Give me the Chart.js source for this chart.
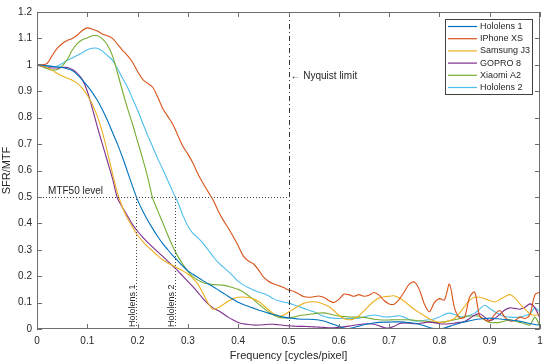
<!DOCTYPE html>
<html>
<head>
<meta charset="utf-8">
<script src="https://cdn.jsdelivr.net/npm/chart.js@4.4.1/dist/chart.umd.min.js"></script>
<style>
  html, body { margin: 0; padding: 0; background: #fff; }
  #wrap { width: 550px; height: 363px; }
</style>
</head>
<body>
<div id="wrap"><canvas id="mtf" width="550" height="363"></canvas></div>
<script>
// frequency grid (cycles/pixel)
const freq = [
  0.00, 0.01, 0.02, 0.03, 0.04, 0.05, 0.06, 0.07, 0.08, 0.09,
  0.10, 0.11, 0.12, 0.13, 0.14, 0.15, 0.16, 0.17, 0.18, 0.19,
  0.20, 0.21, 0.22, 0.23, 0.24, 0.25, 0.26, 0.27, 0.28, 0.29,
  0.30, 0.31, 0.32, 0.33, 0.34, 0.35, 0.36, 0.37, 0.38, 0.39,
  0.40, 0.41, 0.42, 0.43, 0.44, 0.45, 0.46, 0.47, 0.48, 0.49,
  0.50, 0.51, 0.52, 0.53, 0.54, 0.55, 0.56, 0.57, 0.58, 0.59,
  0.60, 0.61, 0.62, 0.63, 0.64, 0.65, 0.66, 0.67, 0.68, 0.69,
  0.70, 0.71, 0.72, 0.73, 0.74, 0.75, 0.76, 0.77, 0.78, 0.79,
  0.80, 0.81, 0.82, 0.83, 0.84, 0.85, 0.86, 0.87, 0.88, 0.89,
  0.90, 0.91, 0.92, 0.93, 0.94, 0.95, 0.96, 0.97, 0.98, 0.99,
  1.00
];

const hololens1 = [
  1.000, 0.998, 0.996, 0.994, 0.992, 0.990, 0.985, 0.978, 0.963, 0.943,
  0.920, 0.895, 0.866, 0.830, 0.790, 0.745, 0.700, 0.650, 0.595, 0.540,
  0.488, 0.448, 0.412, 0.380, 0.350, 0.323, 0.300, 0.278, 0.258, 0.238,
  0.220, 0.207, 0.195, 0.183, 0.171, 0.160, 0.148, 0.136, 0.124, 0.112,
  0.101, 0.093, 0.086, 0.079, 0.072, 0.066, 0.060, 0.055, 0.050, 0.045,
  0.042, 0.040, 0.038, 0.037, 0.037, 0.036, 0.034, 0.030, 0.024, 0.017,
  0.010, 0.004, 0.002, 0.006, 0.011, 0.016, 0.020, 0.023, 0.025, 0.026,
  0.026, 0.027, 0.027, 0.026, 0.024, 0.022, 0.018, 0.012, 0.006, 0.002,
  0.001, 0.004, 0.010, 0.016, 0.022, 0.027, 0.031, 0.035, 0.038, 0.040,
  0.041, 0.040, 0.038, 0.036, 0.034, 0.032, 0.029, 0.025, 0.021, 0.017,
  0.014
];

const iphoneXS = [
  1.000, 1.000, 1.005, 1.035, 1.062, 1.080, 1.092, 1.100, 1.112, 1.130,
  1.140, 1.135, 1.128, 1.117, 1.110, 1.100, 1.078, 1.055, 1.035, 1.010,
  0.975, 0.945, 0.930, 0.915, 0.878, 0.835, 0.805, 0.775, 0.733, 0.692,
  0.662, 0.628, 0.587, 0.552, 0.520, 0.488, 0.448, 0.413, 0.383, 0.350,
  0.315, 0.277, 0.258, 0.247, 0.225, 0.197, 0.181, 0.171, 0.165, 0.157,
  0.148, 0.143, 0.133, 0.123, 0.120, 0.122, 0.125, 0.120, 0.108, 0.100,
  0.112, 0.132, 0.130, 0.124, 0.130, 0.124, 0.128, 0.138, 0.128, 0.108,
  0.095, 0.094, 0.112, 0.140, 0.170, 0.178, 0.150, 0.095, 0.065, 0.100,
  0.115, 0.110, 0.170, 0.080, 0.042, 0.045, 0.120, 0.140, 0.050, 0.035,
  0.030, 0.055, 0.070, 0.045, 0.030, 0.032, 0.045, 0.040, 0.055, 0.130,
  0.140
];

const samsungJ3 = [
  1.000, 0.995, 0.990, 0.980, 0.968, 0.958, 0.950, 0.942, 0.930, 0.912,
  0.885, 0.850, 0.805, 0.745, 0.670, 0.590, 0.515, 0.460, 0.418, 0.385,
  0.355, 0.332, 0.312, 0.295, 0.277, 0.262, 0.250, 0.240, 0.230, 0.220,
  0.208, 0.192, 0.170, 0.135, 0.098, 0.075, 0.080, 0.092, 0.105, 0.115,
  0.120, 0.121, 0.119, 0.114, 0.105, 0.090, 0.073, 0.058, 0.048, 0.052,
  0.064, 0.075, 0.087, 0.097, 0.102, 0.103, 0.100, 0.094, 0.085, 0.070,
  0.052, 0.040, 0.035, 0.038, 0.050, 0.068, 0.088, 0.105, 0.117, 0.122,
  0.124, 0.126, 0.118, 0.105, 0.090, 0.075, 0.062, 0.050, 0.038, 0.030,
  0.025, 0.026, 0.032, 0.040, 0.060, 0.085, 0.108, 0.120, 0.120, 0.115,
  0.108, 0.102, 0.112, 0.122, 0.130, 0.118, 0.095, 0.075, 0.058, 0.052,
  0.060
];

const gopro8 = [
  1.000, 0.995, 0.990, 0.988, 0.988, 0.990, 0.990, 0.982, 0.968, 0.945,
  0.900, 0.835, 0.765, 0.700, 0.635, 0.570, 0.495, 0.460, 0.428, 0.395,
  0.370, 0.348, 0.328, 0.310, 0.292, 0.275, 0.257, 0.238, 0.220, 0.200,
  0.180, 0.160, 0.138, 0.115, 0.095, 0.080, 0.070, 0.058, 0.045, 0.034,
  0.025, 0.020, 0.017, 0.015, 0.015, 0.016, 0.018, 0.018, 0.016, 0.014,
  0.012, 0.011, 0.010, 0.010, 0.009, 0.008, 0.007, 0.006, 0.005, 0.005,
  0.006, 0.008, 0.011, 0.014, 0.017, 0.019, 0.020, 0.018, 0.012, 0.006,
  0.004, 0.010, 0.020, 0.023, 0.022, 0.020, 0.021, 0.024, 0.026, 0.024,
  0.020, 0.019, 0.020, 0.022, 0.025, 0.028, 0.040, 0.052, 0.058, 0.045,
  0.032, 0.040, 0.055, 0.072, 0.080, 0.078, 0.075, 0.082, 0.095, 0.080,
  0.040
];

const xiaomiA2 = [
  1.000, 0.993, 0.985, 0.980, 0.982, 0.995, 1.020, 1.055, 1.080, 1.095,
  1.102, 1.110, 1.110, 1.098, 1.075, 1.035, 0.970, 0.900, 0.835, 0.775,
  0.710, 0.645, 0.575, 0.495, 0.448, 0.402, 0.356, 0.312, 0.275, 0.245,
  0.218, 0.197, 0.185, 0.176, 0.171, 0.168, 0.167, 0.166, 0.162, 0.156,
  0.150, 0.140, 0.127, 0.112, 0.095, 0.080, 0.065, 0.053, 0.045, 0.042,
  0.042, 0.045, 0.050, 0.053, 0.055, 0.058, 0.060, 0.061, 0.058, 0.053,
  0.049, 0.047, 0.046, 0.045, 0.045, 0.044, 0.041, 0.037, 0.035, 0.034,
  0.034, 0.035, 0.035, 0.035, 0.035, 0.033, 0.031, 0.030, 0.028, 0.026,
  0.025, 0.027, 0.031, 0.035, 0.040, 0.046, 0.049, 0.050, 0.048, 0.035,
  0.025, 0.024, 0.025, 0.030, 0.035, 0.030, 0.025, 0.020, 0.015, 0.045,
  0.010
];

const hololens2 = [
  1.000, 0.998, 0.996, 0.994, 0.995, 1.005, 1.016, 1.026, 1.036, 1.046,
  1.057, 1.063, 1.063, 1.052, 1.035, 1.018, 0.985, 0.950, 0.915, 0.872,
  0.828, 0.780, 0.733, 0.690, 0.645, 0.605, 0.562, 0.520, 0.480, 0.430,
  0.390, 0.362, 0.345, 0.325, 0.300, 0.275, 0.252, 0.235, 0.218, 0.200,
  0.180, 0.167, 0.157, 0.148, 0.140, 0.134, 0.126, 0.115, 0.107, 0.102,
  0.098, 0.092, 0.085, 0.078, 0.072, 0.065, 0.057, 0.048, 0.043, 0.041,
  0.040, 0.040, 0.040, 0.040, 0.041, 0.045, 0.050, 0.053, 0.050, 0.046,
  0.046, 0.048, 0.050, 0.045, 0.036, 0.030, 0.030, 0.033, 0.035, 0.038,
  0.045, 0.055, 0.060, 0.055, 0.047, 0.046, 0.052, 0.060, 0.075, 0.090,
  0.078, 0.065, 0.055, 0.047, 0.045, 0.044, 0.045, 0.050, 0.058, 0.080,
  0.065
];

const seriesNames = ['Hololens 1', 'IPhone XS', 'Samsung J3', 'GOPRO 8', 'Xiaomi A2', 'Hololens 2'];

// reference lines
const nyquist = 0.5;
const mtf50 = 0.5;
const mtf50Hololens1 = 0.197;
const mtf50Hololens2 = 0.274;

const colors = ['#0072BD', '#D95319', '#EDB120', '#7E2F8E', '#77AC30', '#4DBEEE'];
const allSeries = [hololens1, iphoneXS, samsungJ3, gopro8, xiaomiA2, hololens2];
const FONT = '"Liberation Sans", Arial, sans-serif';
const TEXT = '#262626';

function pts(vals) {
    return vals.map((v, i) => ({ x: freq[i], y: v }));
}

// matlab style tick text: 0, 0.1, ... 1
const tickText = v => String(Math.round(v * 10) / 10);

// box with inward ticks, like matlab axes
const boxPlugin = {
    id: 'boxPlugin',
    afterDraw(chart) {
        const { ctx, chartArea: a, scales } = chart;
        ctx.save();
        ctx.strokeStyle = '#6e6e6e';
        ctx.lineWidth = 1;
        ctx.strokeRect(a.left + 0.5, a.top + 0.5, a.right - a.left - 1, a.bottom - a.top - 1);
        const tl = 5;
        ctx.beginPath();
        scales.x.ticks.forEach(t => {
            const px = Math.round(scales.x.getPixelForValue(t.value)) + 0.5;
            ctx.moveTo(px, a.bottom); ctx.lineTo(px, a.bottom - tl);
            ctx.moveTo(px, a.top); ctx.lineTo(px, a.top + tl);
        });
        scales.y.ticks.forEach(t => {
            const py = Math.round(scales.y.getPixelForValue(t.value)) + 0.5;
            ctx.moveTo(a.left, py); ctx.lineTo(a.left + tl, py);
            ctx.moveTo(a.right, py); ctx.lineTo(a.right - tl, py);
        });
        ctx.stroke();
        ctx.restore();
    }
};

// MTF50 / Nyquist markers
const markPlugin = {
    id: 'markPlugin',
    afterDatasetsDraw(chart) {
        const { ctx, scales: { x, y } } = chart;
        ctx.save();
        ctx.strokeStyle = '#444';
        ctx.lineWidth = 1;

        // mtf50 level
        ctx.setLineDash([1, 2]);
        ctx.beginPath();
        ctx.moveTo(x.getPixelForValue(0), Math.round(y.getPixelForValue(mtf50)) + 0.5);
        ctx.lineTo(x.getPixelForValue(nyquist), Math.round(y.getPixelForValue(mtf50)) + 0.5);
        [mtf50Hololens1, mtf50Hololens2].forEach(f => {
            const px = Math.round(x.getPixelForValue(f)) + 0.5;
            ctx.moveTo(px, y.getPixelForValue(0));
            ctx.lineTo(px, y.getPixelForValue(mtf50));
        });
        ctx.stroke();

        // nyquist
        ctx.strokeStyle = '#333';
        ctx.setLineDash([5, 3, 1, 3]);
        ctx.beginPath();
        const nx = Math.round(x.getPixelForValue(nyquist)) + 0.5;
        ctx.moveTo(nx, y.getPixelForValue(0));
        ctx.lineTo(nx, y.getPixelForValue(1.2));
        ctx.stroke();
        ctx.setLineDash([]);

        ctx.fillStyle = TEXT;
        ctx.font = '10px ' + FONT;
        ctx.textAlign = 'left';
        ctx.textBaseline = 'middle';
        ctx.fillText('\u2190 Nyquist limit', nx + 1, y.getPixelForValue(0.958));
        ctx.textBaseline = 'bottom';
        ctx.fillText('MTF50 level', x.getPixelForValue(0.022), y.getPixelForValue(mtf50) - 1);

        ctx.font = '9px ' + FONT;
        ctx.textBaseline = 'alphabetic';
        [['Hololens 1', mtf50Hololens1], ['Hololens 2', mtf50Hololens2]].forEach(([txt, f]) => {
            ctx.save();
            ctx.translate(Math.round(x.getPixelForValue(f)) - 1, y.getPixelForValue(0) - 2);
            ctx.rotate(-Math.PI / 2);
            ctx.fillText(txt, 0, 0);
            ctx.restore();
        });
        ctx.restore();
    }
};

// legend box in top right corner
const legendPlugin = {
    id: 'legendPlugin',
    afterDraw(chart) {
        const ctx = chart.ctx;
        const bx = 445, by = 19, bw = 87, bh = 75;
        ctx.save();
        ctx.fillStyle = '#fff';
        ctx.fillRect(bx, by, bw, bh);
        ctx.strokeStyle = '#404040';
        ctx.lineWidth = 1;
        ctx.strokeRect(bx + 0.5, by + 0.5, bw, bh);
        ctx.font = '9px ' + FONT;
        ctx.textAlign = 'left';
        ctx.textBaseline = 'middle';
        chart.data.datasets.forEach((ds, i) => {
            const ry = by + 7.5 + i * 12.2;
            ctx.strokeStyle = ds.borderColor;
            ctx.lineWidth = 1.2;
            ctx.beginPath();
            ctx.moveTo(bx + 3, ry);
            ctx.lineTo(bx + 32, ry);
            ctx.stroke();
            ctx.fillStyle = TEXT;
            ctx.fillText(ds.label, bx + 35, ry);
        });
        ctx.restore();
    }
};

new Chart(document.getElementById('mtf'), {
    type: 'line',
    data: {
        datasets: allSeries.map((vals, i) => ({
            label: seriesNames[i],
            data: pts(vals),
            borderColor: colors[i],
            backgroundColor: colors[i],
            borderWidth: 1.1,
            pointRadius: 0,
            tension: 0.3,
            fill: false
        }))
    },
    options: {
        responsive: false,
        animation: false,
        layout: { padding: { top: 12, right: 10, left: 0, bottom: 0 } },
        plugins: {
            legend: { display: false },
            tooltip: { enabled: false }
        },
        scales: {
            x: {
                type: 'linear',
                min: 0,
                max: 1,
                ticks: { stepSize: 0.1, color: TEXT, font: { family: FONT, size: 10 }, padding: 6, maxRotation: 0, callback: tickText },
                grid: { display: false, drawTicks: false },
                border: { display: false },
                title: { display: true, text: 'Frequency [cycles/pixel]', color: TEXT, font: { family: FONT, size: 11 }, padding: { top: 2, bottom: 0 } },
                afterFit: s => { s.height = 34; }
            },
            y: {
                min: 0,
                max: 1.2,
                ticks: { stepSize: 0.1, color: TEXT, font: { family: FONT, size: 10 }, padding: 5, callback: tickText },
                grid: { display: false, drawTicks: false },
                border: { display: false },
                title: { display: true, text: 'SFR/MTF', color: TEXT, font: { family: FONT, size: 11 }, padding: { top: 0, bottom: 2 } },
                afterFit: s => { s.width = 37; }
            }
        }
    },
    plugins: [markPlugin, boxPlugin, legendPlugin]
});
</script>
</body>
</html>
